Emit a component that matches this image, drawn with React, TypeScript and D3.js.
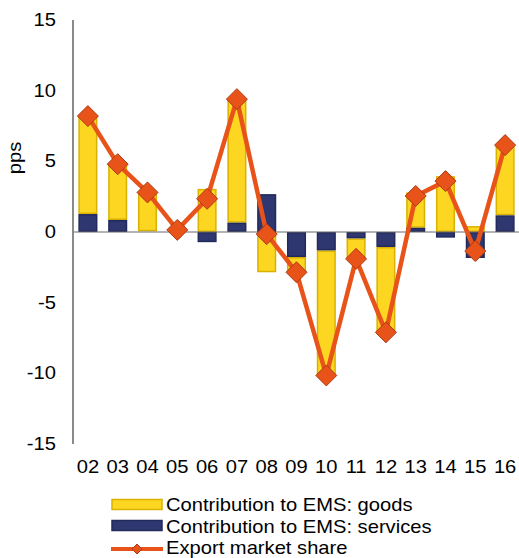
import React from "react";
import * as d3 from "d3";

// data (pps)
const years = ["02", "03", "04", "05", "06", "07", "08", "09", "10", "11", "12", "13", "14", "15", "16"];
const goods = [7.0, 3.95, 2.75, 0.0, 3.05, 8.7, -2.85, -1.05, -8.85, -1.45, -6.05, 2.5, 3.95, 0.42, 4.95];
const services = [1.27, 0.85, 0.05, -0.1, -0.72, 0.66, 2.68, -1.77, -1.3, -0.45, -1.06, 0.3, -0.4, -1.84, 1.18];
const ems = [8.2, 4.8, 2.8, 0.15, 2.35, 9.4, -0.15, -2.85, -10.15, -1.9, -7.1, 2.55, 3.6, -1.35, 6.15];
const yTicks = [15, 10, 5, 0, -5, -10, -15];

const W = 519;
const H = 558;
const margin = { top: 20, right: -1, bottom: 114, left: 73 };

const GOLD = "#fdd622";
const GOLD_EDGE = "#d9b200";
const NAVY = "#2f3770";
const NAVY_EDGE = "#222a5c";
const ORANGE = "#e8531a";
const ORANGE_EDGE = "#ad3a14";

const FONT = "'Liberation Sans', Arial, sans-serif";
const SX = 1.12; // the reference text looks a bit wide

function Txt({ x, y, anchor = "start", size = 18, children }: any) {
    return (
        <text transform={`translate(${x},${y}) scale(${SX},1)`} textAnchor={anchor}
              fontSize={size} fontFamily={FONT} fill="#000">{children}</text>
    );
}

const diamond = (r: number) => `M0,${-r}L${r},0L0,${r}L${-r},0Z`;

export default function App() {
    const x = d3.scaleBand<string>()
        .domain(years)
        .range([margin.left, W - margin.right])
        .paddingInner(0.36)
        .paddingOuter(0.18);

    const y = d3.scaleLinear()
        .domain([-15, 15])
        .range([H - margin.bottom, margin.top]);

    const rows = years.map((yr, i) => ({ yr, services: services[i], goods: goods[i] }));
    const stack = d3.stack<any>()
        .keys(["services", "goods"])
        .offset(d3.stackOffsetDiverging);
    const series = stack(rows);

    const line = d3.line<number>()
        .x((d, i) => x(years[i])! + x.bandwidth() / 2)
        .y(d => y(d));

    const fills: any = { goods: [GOLD, GOLD_EDGE], services: [NAVY, NAVY_EDGE] };
    const bw = x.bandwidth();

    return (
        <svg width={W} height={H} style={{ position: "absolute", left: 0, top: 0 }}>
            <rect width={W} height={H} fill="#fff"/>

            {/* bars, goods drawn first so services sit on top near zero */}
            {[series[1], series[0]].map(s => (
                <g key={s.key}>
                    {s.map((d: any, i: number) => {
                        const y0 = y(Math.max(d[0], d[1]));
                        const y1 = y(Math.min(d[0], d[1]));
                        const h = Math.max(0, y1 - y0);
                        return (
                            <rect key={i} x={x(years[i])! + 0.75} y={y0 + 0.75} width={bw - 1.5}
                                  height={Math.max(0, h - 1.5)}
                                  fill={fills[s.key][0]} stroke={fills[s.key][1]} strokeWidth={1.5}/>
                        );
                    })}
                </g>
            ))}

            {/* zero line and y axis */}
            <line x1={margin.left} x2={W} y1={y(0)} y2={y(0)} stroke="#6b6b6b" strokeWidth={1.2}/>
            <line x1={margin.left} x2={margin.left} y1={y(15)} y2={y(-15)} stroke="#8a8a8a" strokeWidth={2}/>

            {yTicks.map(t => (
                <Txt key={t} x={56} y={y(t) + 6} anchor="end">{t}</Txt>
            ))}
            <text transform={`translate(21,${158}) rotate(-90) scale(${SX},1)`} textAnchor="middle"
                  fontSize={18} fontFamily={FONT}>pps</text>

            {years.map(yr => (
                <Txt key={yr} x={x(yr)! + bw / 2} y={473} anchor="middle">{yr}</Txt>
            ))}

            {/* export market share */}
            <path d={line(ems)!} fill="none" stroke={ORANGE} strokeWidth={4.5} strokeLinejoin="round"/>
            {ems.map((v, i) => (
                <path key={i} d={diamond(10.5)}
                      transform={`translate(${x(years[i])! + bw / 2},${y(v)})`}
                      fill={ORANGE} stroke={ORANGE_EDGE} strokeWidth={1}/>
            ))}

            {/* legend */}
            <rect x={112} y={499.5} width={50} height={10} fill={GOLD} stroke={GOLD_EDGE} strokeWidth={1.5}/>
            <Txt x={166} y={511}>Contribution to EMS: goods</Txt>
            <rect x={112} y={520.5} width={50} height={10} fill={NAVY} stroke={NAVY_EDGE} strokeWidth={1.5}/>
            <Txt x={166} y={532.5}>Contribution to EMS: services</Txt>
            <line x1={111} x2={163} y1={549} y2={549} stroke={ORANGE} strokeWidth={4}/>
            <path d={diamond(5)} transform="translate(137,549)" fill={ORANGE} stroke={ORANGE_EDGE} strokeWidth={1}/>
            <Txt x={166} y={554}>Export market share</Txt>
        </svg>
    );
}
